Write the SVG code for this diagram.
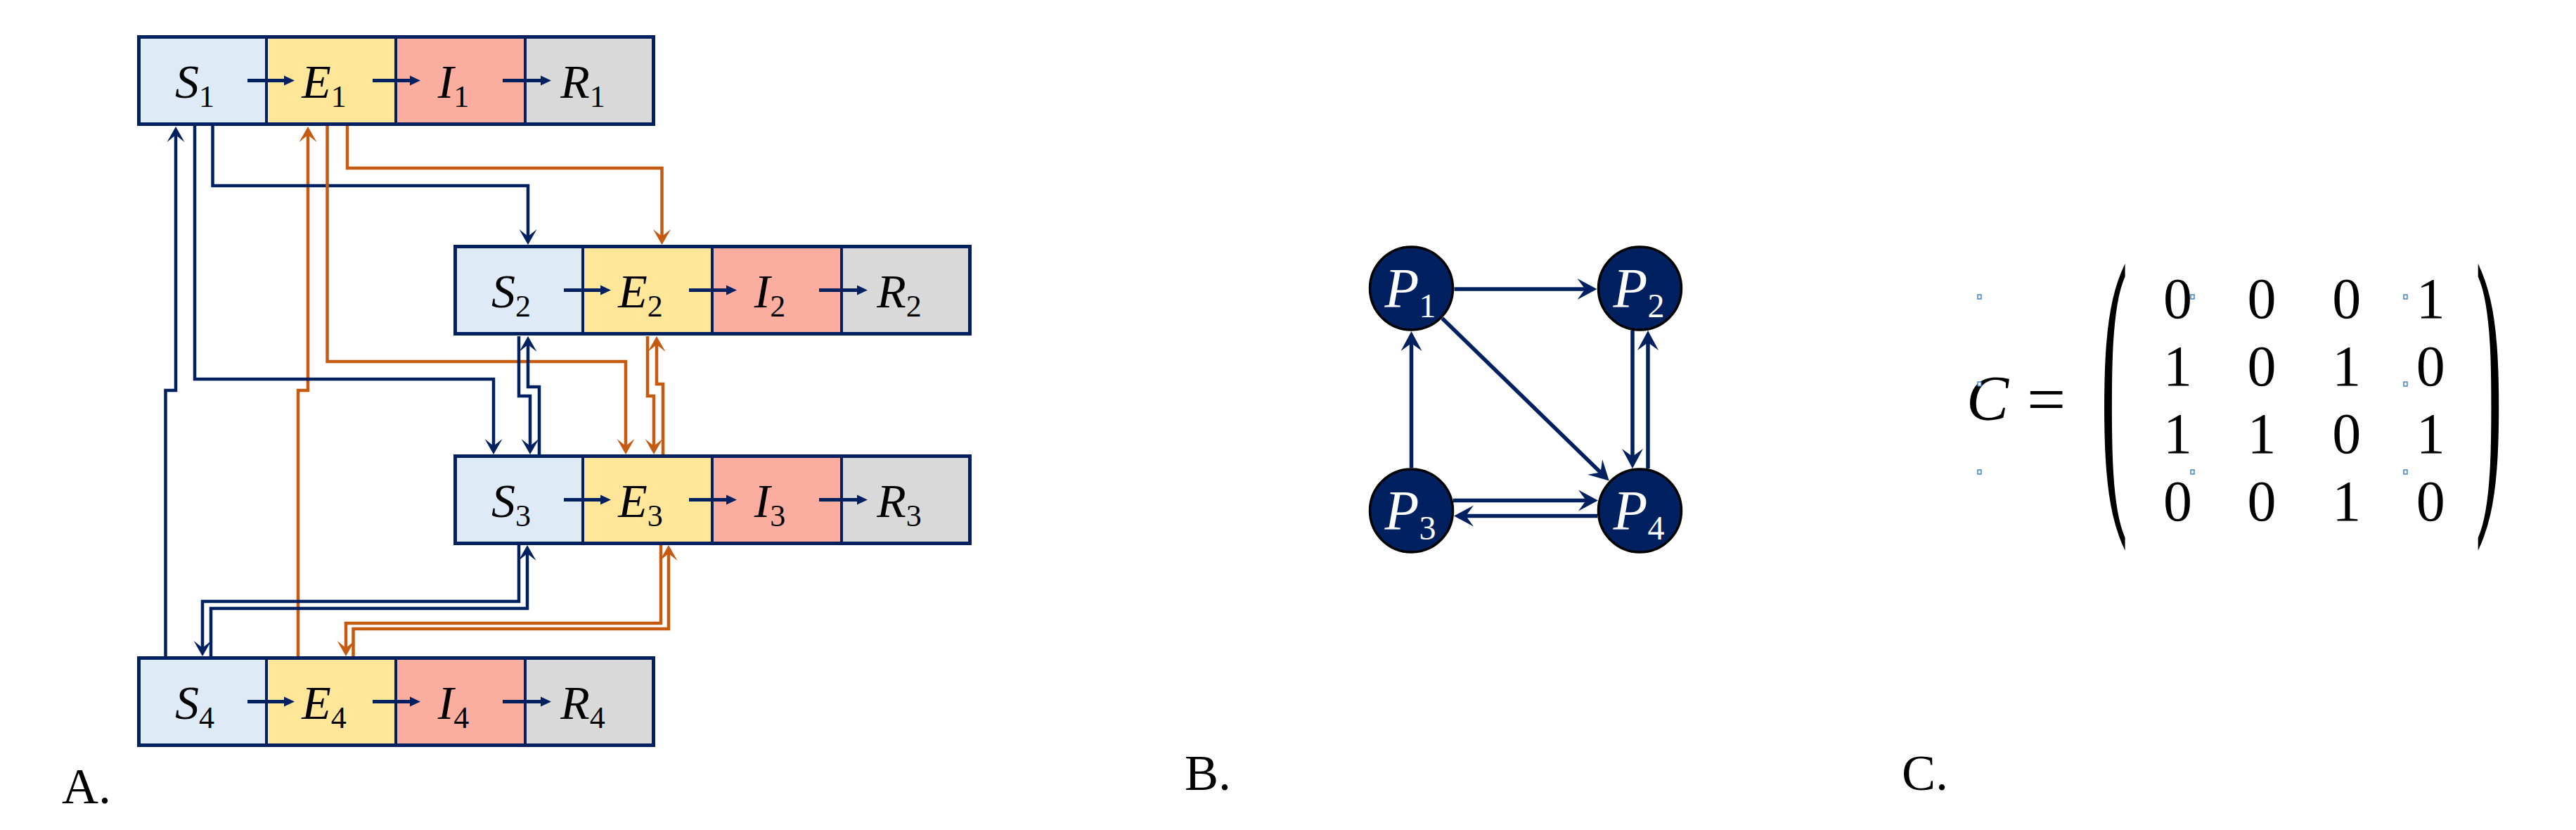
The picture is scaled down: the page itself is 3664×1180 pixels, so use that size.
<svg xmlns="http://www.w3.org/2000/svg" xmlns:xlink="http://www.w3.org/1999/xlink" width="3664" height="1180" viewBox="0 0 3664 1180">
<style>
  .s{fill:#DEEBF7}
  .e{fill:#FFE699}
  .i{fill:#FBAE9F}
  .r{fill:#D9D9D9}
  .div{stroke:#002060;stroke-width:4}
  .frame{fill:none;stroke:#002060;stroke-width:5}
  .inner{stroke:#002060;stroke-width:5}
  .ih{fill:#002060}
  .lbl{font-family:"Liberation Serif",serif;font-size:68px;font-style:italic;text-anchor:middle;fill:#000}
  .sub{font-size:44px;font-style:normal}
  .cb{fill:none;stroke:#002060;stroke-width:4.5;marker-end:url(#mb)}
  .co{fill:none;stroke:#C55A11;stroke-width:4.5;marker-end:url(#mo)}
  .pe{fill:none;stroke:#002060;stroke-width:5.5;marker-end:url(#mp)}
  .node{fill:#002060;stroke:#000;stroke-width:3.5}
  .plbl{font-family:"Liberation Serif",serif;font-size:80px;font-style:italic;text-anchor:middle;fill:#fff}
  .psub{font-size:48px;font-style:normal}
  .math{font-family:"Liberation Serif",serif;font-size:82px;fill:#000;text-anchor:middle}
  .panel{font-family:"Liberation Serif",serif;font-size:72px;fill:#000}
  .ph{fill:#EAF2FB;stroke:#2E75B6;stroke-width:1.3}
</style>
<defs>
  <marker id="mb" viewBox="-14 -14 28 28" markerWidth="28" markerHeight="28" refX="0" refY="0" orient="auto" markerUnits="userSpaceOnUse">
    <path d="M10,0 L-12,-12.5 L-2,0 L-12,12.5 Z" fill="#002060"/>
  </marker>
  <marker id="mo" viewBox="-14 -14 28 28" markerWidth="28" markerHeight="28" refX="0" refY="0" orient="auto" markerUnits="userSpaceOnUse">
    <path d="M10,0 L-12,-12.5 L-2,0 L-12,12.5 Z" fill="#C55A11"/>
  </marker>
  <marker id="mp" viewBox="-20 -16 32 32" markerWidth="32" markerHeight="32" refX="0" refY="0" orient="auto" markerUnits="userSpaceOnUse">
    <path d="M10,0 L-18,-15 L-7,0 L-18,15 Z" fill="#002060"/>
  </marker>
  <g id="row">
    <rect class="s" x="0" y="0" width="184" height="129"/>
    <rect class="e" x="184" y="0" width="184" height="129"/>
    <rect class="i" x="368" y="0" width="184" height="129"/>
    <rect class="r" x="552" y="0" width="185" height="129"/>
    <line class="div" x1="184" y1="0" x2="184" y2="129"/>
    <line class="div" x1="368" y1="0" x2="368" y2="129"/>
    <line class="div" x1="552" y1="0" x2="552" y2="129"/>
    <rect class="frame" x="2.5" y="2.5" width="732" height="124"/>
    <line class="inner" x1="157" y1="64.5" x2="211" y2="64.5"/>
    <polygon class="ih" points="224,64.5 209,57.5 209,71.5"/>
    <line class="inner" x1="335" y1="64.5" x2="390" y2="64.5"/>
    <polygon class="ih" points="403,64.5 388,57.5 388,71.5"/>
    <line class="inner" x1="520" y1="64.5" x2="576" y2="64.5"/>
    <polygon class="ih" points="589,64.5 574,57.5 574,71.5"/>
  </g>
</defs>
<rect x="0" y="0" width="3664" height="1180" fill="#fff"/>

<!-- Panel A -->
<g id="patch1" transform="translate(195,50)">
  <use xlink:href="#row" href="#row"/>
  <text class="lbl" x="82" y="88.5">S<tspan class="sub" dy="13">1</tspan></text>
  <text class="lbl" x="266" y="88.5">E<tspan class="sub" dy="13">1</tspan></text>
  <text class="lbl" x="450" y="88.5">I<tspan class="sub" dy="13">1</tspan></text>
  <text class="lbl" x="634" y="88.5">R<tspan class="sub" dy="13">1</tspan></text>
</g>
<g id="patch2" transform="translate(645,348)">
  <use xlink:href="#row" href="#row"/>
  <text class="lbl" x="82" y="88.5">S<tspan class="sub" dy="13">2</tspan></text>
  <text class="lbl" x="266" y="88.5">E<tspan class="sub" dy="13">2</tspan></text>
  <text class="lbl" x="450" y="88.5">I<tspan class="sub" dy="13">2</tspan></text>
  <text class="lbl" x="634" y="88.5">R<tspan class="sub" dy="13">2</tspan></text>
</g>
<g id="patch3" transform="translate(645,646)">
  <use xlink:href="#row" href="#row"/>
  <text class="lbl" x="82" y="88.5">S<tspan class="sub" dy="13">3</tspan></text>
  <text class="lbl" x="266" y="88.5">E<tspan class="sub" dy="13">3</tspan></text>
  <text class="lbl" x="450" y="88.5">I<tspan class="sub" dy="13">3</tspan></text>
  <text class="lbl" x="634" y="88.5">R<tspan class="sub" dy="13">3</tspan></text>
</g>
<g id="patch4" transform="translate(195,933)">
  <use xlink:href="#row" href="#row"/>
  <text class="lbl" x="82" y="88.5">S<tspan class="sub" dy="13">4</tspan></text>
  <text class="lbl" x="266" y="88.5">E<tspan class="sub" dy="13">4</tspan></text>
  <text class="lbl" x="450" y="88.5">I<tspan class="sub" dy="13">4</tspan></text>
  <text class="lbl" x="634" y="88.5">R<tspan class="sub" dy="13">4</tspan></text>
</g>

<g id="connectors-A">
  <path class="cb" d="M235.5,933 V555 H250 V190"/>
  <path class="co" d="M424,933 V555 H438 V190"/>
  <path class="cb" d="M302.5,179 V264 H751 V338"/>
  <path class="cb" d="M277,179 V539 H702 V636"/>
  <path class="co" d="M494,179 V239 H941.5 V338"/>
  <path class="co" d="M465.5,179 V514 H890 V636"/>
  <path class="cb" d="M738,478 V563 H754 V636"/>
  <path class="cb" d="M767,646 V550 H751 V488"/>
  <path class="co" d="M921,478 V563 H930 V636"/>
  <path class="co" d="M943,646 V546 H934 V488"/>
  <path class="cb" d="M738,775 V855 H288 V923"/>
  <path class="cb" d="M300,933 V865 H750 V785"/>
  <path class="co" d="M940,775 V886 H492 V923"/>
  <path class="co" d="M502.5,933 V894 H951 V785"/>
</g>

<!-- Panel B -->
<g id="connectors-B">
  <path class="pe" d="M2068.5,411 H2261.5"/>
  <path class="pe" d="M2007.5,665 V481"/>
  <path class="pe" d="M2051.3,452.5 L2281.6,676.5"/>
  <path class="pe" d="M2322,470 V656"/>
  <path class="pe" d="M2344,666 V480"/>
  <path class="pe" d="M2066.7,711.5 H2263"/>
  <path class="pe" d="M2272,733.5 H2078"/>
</g>
<g id="P1">
  <circle class="node" cx="2007.5" cy="410" r="59"/>
  <text class="plbl" x="2006" y="437">P<tspan class="psub" dy="14">1</tspan></text>
</g>
<g id="P2">
  <circle class="node" cx="2332.5" cy="410" r="59"/>
  <text class="plbl" x="2331" y="437">P<tspan class="psub" dy="14">2</tspan></text>
</g>
<g id="P3">
  <circle class="node" cx="2007.5" cy="726" r="59"/>
  <text class="plbl" x="2006" y="753">P<tspan class="psub" dy="14">3</tspan></text>
</g>
<g id="P4">
  <circle class="node" cx="2332.5" cy="726" r="59"/>
  <text class="plbl" x="2331" y="753">P<tspan class="psub" dy="14">4</tspan></text>
</g>

<!-- Panel C -->
<g id="matrix">
  <text x="2797" y="597" font-family="Liberation Serif,serif" font-size="90" font-style="italic">C</text>
  <text x="2883" y="600" font-family="Liberation Serif,serif" font-size="98">=</text>
  <text x="0" y="0" transform="translate(2988,687) scale(1.15,4.5)" font-family="Liberation Serif,serif" font-size="100">(</text>
  <text x="0" y="0" transform="translate(3521,687) scale(1.15,4.5)" font-family="Liberation Serif,serif" font-size="100">)</text>
  <text class="math" x="3097.5" y="452">0</text>
  <text class="math" x="3217" y="452">0</text>
  <text class="math" x="3337.7" y="452">0</text>
  <text class="math" x="3457.2" y="452">1</text>
  <text class="math" x="3097.5" y="547.5">1</text>
  <text class="math" x="3217" y="547.5">0</text>
  <text class="math" x="3337.7" y="547.5">1</text>
  <text class="math" x="3457.2" y="547.5">0</text>
  <text class="math" x="3097.5" y="643.5">1</text>
  <text class="math" x="3217" y="643.5">1</text>
  <text class="math" x="3337.7" y="643.5">0</text>
  <text class="math" x="3457.2" y="643.5">1</text>
  <text class="math" x="3097.5" y="740">0</text>
  <text class="math" x="3217" y="740">0</text>
  <text class="math" x="3337.7" y="740">1</text>
  <text class="math" x="3457.2" y="740">0</text>
  <rect class="ph" x="2813" y="419" width="5" height="6"/>
  <rect class="ph" x="3116" y="419" width="5" height="6"/>
  <rect class="ph" x="3419" y="419" width="5" height="6"/>
  <rect class="ph" x="2813" y="543" width="5" height="6"/>
  <rect class="ph" x="3419" y="543" width="5" height="6"/>
  <rect class="ph" x="2813" y="668" width="5" height="6"/>
  <rect class="ph" x="3116" y="668" width="5" height="6"/>
  <rect class="ph" x="3419" y="668" width="5" height="6"/>
</g>

<!-- Panel labels -->
<text class="panel" x="88" y="1142">A.</text>
<text class="panel" x="1685" y="1123">B.</text>
<text class="panel" x="2705" y="1123">C.</text>
</svg>
